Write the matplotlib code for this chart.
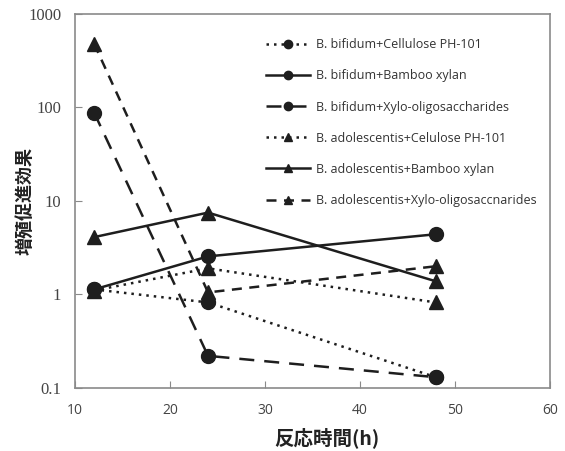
import matplotlib
matplotlib.use('Agg')
import matplotlib.pyplot as plt
from matplotlib.ticker import FixedLocator, FixedFormatter

# reaction time (h)
hours = [12, 24, 48]

# growth promotion effect
bif_cellulose = [1.13, 0.82, 0.13]
bif_bamboo = [1.13, 2.55, 4.4]
bif_xos = [88, 0.22, 0.13]
ado_cellulose = [1.1, 1.9, 0.82]
ado_bamboo = [4.1, 7.5, 1.38]
ado_xos = [480, 1.05, 2.0]

labels = [
    'B. bifidum+Cellulose PH-101',
    'B. bifidum+Bamboo xylan',
    'B. bifidum+Xylo-oligosaccharides',
    'B. adolescentis+Celulose PH-101',
    'B. adolescentis+Bamboo xylan',
    'B. adolescentis+Xylo-oligosaccnarides',
]
x_ticks = [10, 20, 30, 40, 50, 60]
y_ticks = [0.1, 1, 10, 100, 1000]
y_tick_labels = ['0.1', '1', '10', '100', '1000']

series = [bif_cellulose, bif_bamboo, bif_xos, ado_cellulose, ado_bamboo, ado_xos]
markers = ['o', 'o', 'o', '^', '^', '^']
styles = [(0, (1, 2)), '-', (0, (6, 4)), (0, (1, 2)), '-', (0, (4, 3))]

fig = plt.figure(figsize=(5.65, 4.51), dpi=100)
ax = fig.add_axes([0.133, 0.14, 0.84, 0.829])

col = '#1e1e1e'
for vals, mk, ls, lab in zip(series, markers, styles, labels):
    ax.plot(hours, vals, linestyle=ls, color=col, linewidth=1.8,
            marker=mk, markersize=10, markerfacecolor=col,
            markeredgecolor=col, label=lab)

ax.set_yscale('log')
ax.set_xlim(10, 60)
ax.set_ylim(0.1, 1000)
ax.yaxis.set_major_locator(FixedLocator(y_ticks))
ax.yaxis.set_major_formatter(FixedFormatter(y_tick_labels))
ax.yaxis.set_minor_locator(FixedLocator([]))
ax.set_xticks(x_ticks)

for s in ax.spines.values():
    s.set_color('#8a8a8a')
    s.set_linewidth(1.2)
ax.tick_params(axis='both', direction='in', length=5, color='#8a8a8a',
               labelcolor='#444444')
ax.tick_params(axis='x', pad=11)
ax.tick_params(axis='y', pad=10)
for t in ax.get_xticklabels():
    t.set_family('Open Sans')
    t.set_fontsize(10)
for t in ax.get_yticklabels():
    t.set_family('Liberation Serif')
    t.set_fontsize(12)

ax.set_xlabel('反応時間(h)', family=['Noto Sans CJK JP', 'DejaVu Sans'],
              fontweight='bold', fontsize=14, color='#222222')
ax.xaxis.set_label_coords(0.53, -0.105)
ax.set_ylabel('増殖促進効果', family=['Noto Sans CJK JP', 'DejaVu Sans'],
              fontweight='bold', fontsize=13, color='#222222')
ax.yaxis.set_label_coords(-0.085, 0.5)

leg = ax.legend(loc='upper right', bbox_to_anchor=(0.997, 0.965), frameon=False,
                prop={'family': 'Open Sans', 'size': 9}, labelspacing=1.45,
                handlelength=3.5, handletextpad=0.5, markerscale=0.6)
for t in leg.get_texts():
    t.set_color('#333333')

fig.savefig('out.png', dpi=100)
